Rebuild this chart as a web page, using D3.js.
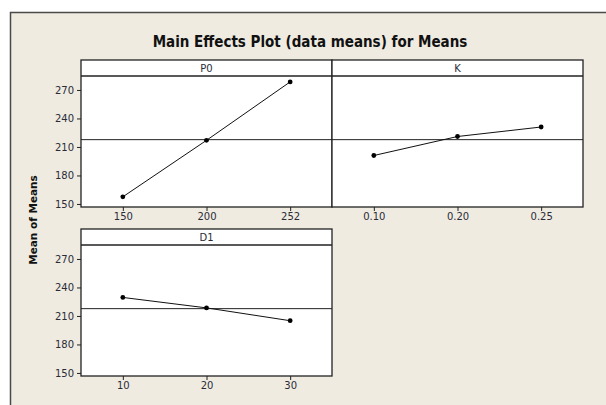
<!DOCTYPE html>
<html lang="en">
<head>
<meta charset="utf-8">
<title>Main Effects Plot</title>
<script src="https://cdn.jsdelivr.net/npm/d3@7"></script>
<style>
  body { margin: 0; background: #fff; }
  .axis text { font-family: "DejaVu Sans", sans-serif; font-size: 10px; fill: #2b2b38; }
  .axis path, .axis line { stroke: #222; }
</style>
</head>
<body>
<script>
// data (means)
var factors = ["P0", "K", "D1"];
var p0Levels = ["150", "200", "252"];
var p0Means = [157.5, 217, 278.5];
var kLevels = ["0.10", "0.20", "0.25"];
var kMeans = [201, 221, 231];
var d1Levels = ["10", "20", "30"];
var d1Means = [229.5, 218.5, 205];
var yTicks = [150, 180, 210, 240, 270];
var grandMean = 217.7;

var w = 606, h = 405;
var panelW = 251, panelH = 147, headH = 16;

var panels = [
  { name: factors[0], levels: p0Levels, means: p0Means, x0: 81, y0: 60, showY: true },
  { name: factors[1], levels: kLevels, means: kMeans, x0: 332, y0: 60, showY: false },
  { name: factors[2], levels: d1Levels, means: d1Means, x0: 81, y0: 229, showY: true }
];

var svg = d3.select("body").append("svg")
  .attr("width", w)
  .attr("height", h);

// outer frame
svg.append("rect")
  .attr("x", 10.5).attr("y", 12.5)
  .attr("width", w + 10).attr("height", h + 10)
  .attr("fill", "#efebe1")
  .attr("stroke", "#4a4a4a")
  .attr("stroke-width", 1.5);

svg.append("text")
  .attr("x", 310).attr("y", 47)
  .attr("text-anchor", "middle")
  .attr("font-family", "'DejaVu Sans Condensed', 'DejaVu Sans', sans-serif")
  .attr("font-stretch", "condensed")
  .attr("font-weight", "bold")
  .attr("font-size", "15px")
  .attr("fill", "#111")
  .text("Main Effects Plot (data means) for Means");

svg.append("text")
  .attr("transform", "translate(37,220) rotate(-90)")
  .attr("text-anchor", "middle")
  .attr("font-family", "'DejaVu Sans', sans-serif")
  .attr("font-weight", "bold")
  .attr("font-size", "10.5px")
  .attr("fill", "#111")
  .text("Mean of Means");

panels.forEach(function(p) {
  var g = svg.append("g").attr("transform", "translate(" + p.x0 + "," + p.y0 + ")");

  var xScale = d3.scalePoint()
    .domain(p.levels)
    .range([0, panelW])
    .padding(0.5);

  var yScale = d3.scaleLinear()
    .domain([146.8, 284.7])
    .range([panelH, headH]);

  g.append("rect")
    .attr("width", panelW).attr("height", panelH)
    .attr("fill", "#fff");

  // grand mean reference
  g.append("line")
    .attr("x1", 0).attr("x2", panelW)
    .attr("y1", yScale(grandMean)).attr("y2", yScale(grandMean))
    .attr("stroke", "#222")
    .attr("stroke-width", 1);

  var line = d3.line()
    .x(function(d, i) { return xScale(p.levels[i]); })
    .y(function(d) { return yScale(d); });

  g.append("path")
    .datum(p.means)
    .attr("d", line)
    .attr("fill", "none")
    .attr("stroke", "#111")
    .attr("stroke-width", 1);

  g.selectAll("circle")
    .data(p.means)
    .enter()
    .append("circle")
    .attr("cx", function(d, i) { return xScale(p.levels[i]); })
    .attr("cy", function(d) { return yScale(d); })
    .attr("r", 2.4)
    .attr("fill", "#000");

  // header strip
  g.append("line")
    .attr("x1", 0).attr("x2", panelW)
    .attr("y1", headH).attr("y2", headH)
    .attr("stroke", "#222")
    .attr("stroke-width", 1.3);

  g.append("text")
    .attr("x", panelW / 2).attr("y", 12)
    .attr("text-anchor", "middle")
    .attr("font-family", "'DejaVu Sans', sans-serif")
    .attr("font-size", "10px")
    .attr("fill", "#2b2b38")
    .text(p.name);

  g.append("rect")
    .attr("width", panelW).attr("height", panelH)
    .attr("fill", "none")
    .attr("stroke", "#222")
    .attr("stroke-width", 1.3);

  var xAxis = d3.axisBottom(xScale).tickSize(4).tickPadding(2).tickSizeOuter(0);
  g.append("g")
    .attr("class", "axis")
    .attr("transform", "translate(0," + panelH + ")")
    .call(xAxis)
    .select(".domain").remove();

  if (p.showY) {
    var yAxis = d3.axisLeft(yScale).tickValues(yTicks).tickSize(4).tickPadding(3);
    g.append("g")
      .attr("class", "axis")
      .call(yAxis)
      .select(".domain").remove();
  }
});
</script>
</body>
</html>
